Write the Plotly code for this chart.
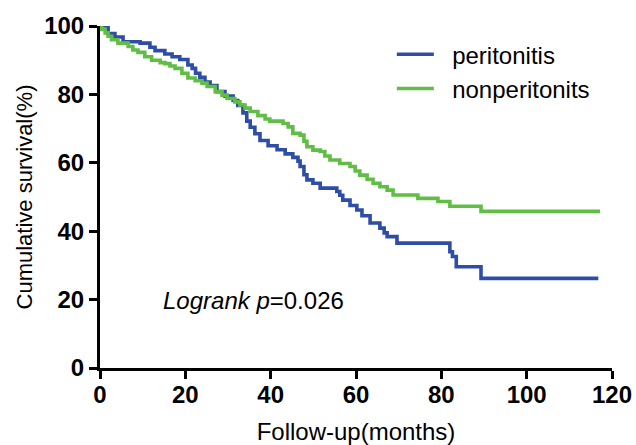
import plotly.graph_objects as go

# Kaplan-Meier step data (months, cumulative survival %)
peri_t = [0, 1.9, 3.5, 5.4, 9.4, 11.7, 12.9, 15.2, 16.9, 18.7, 20.6, 21.6, 22.4, 23.4, 24.6, 25.8,
          27.4, 29.3, 31.2, 32.3, 33.5, 34.4, 35.2, 36.3, 37.5, 39.4, 41.5, 43.4, 45.2, 46.4,
          46.9, 47.8, 48.5, 49.9, 51.6, 55.5, 56.2, 56.9, 58.6, 60.2, 61.4, 63.3, 65.6, 66.6,
          67.3, 69.6, 82.0, 82.6, 83.5, 89.3, 116.8]
peri_s = [100, 97.8, 96.8, 95.4, 95.0, 93.8, 92.8, 91.8, 91.0, 90.2, 88.6, 87.6, 86.2, 85.0, 83.6, 82.6,
          80.8, 79.5, 78.2, 76.8, 74.6, 72.2, 70.4, 68.5, 66.5, 65.0, 63.8, 62.6, 61.6, 60.5,
          58.9, 56.5, 55.0, 54.0, 52.6, 51.6, 50.5, 49.1, 47.5, 46.2, 44.5, 42.4, 40.9, 39.5,
          38.4, 36.5, 34.0, 32.6, 29.6, 26.2, 26.2]

nonperi_t = [0, 0.4, 1.2, 1.9, 2.7, 4.2, 6.6, 7.7, 8.9, 10.5, 12.1, 14.1, 15.2, 16.4, 17.6, 19.2,
             20.6, 22.3, 23.9, 25.1, 27.0, 28.6, 29.8, 31.6, 32.8, 34.0, 35.2, 37.0, 38.7, 39.8,
             42.9, 44.1, 45.2, 46.9, 47.8, 48.5, 49.9, 51.6, 52.7, 53.9, 56.2, 58.6, 59.8, 60.9,
             62.6, 64.0, 65.6, 67.3, 68.7, 74.5, 79.2, 82.0, 89.3, 117.2]
nonperi_s = [100, 99.0, 98.0, 97.0, 96.0, 95.0, 94.0, 93.0, 92.3, 91.0, 90.0, 89.3, 89.0, 88.3, 87.6, 86.2,
             84.8, 84.0, 83.3, 82.3, 80.8, 79.8, 78.8, 77.8, 76.9, 76.0, 75.0, 73.8, 72.8, 72.2,
             71.5, 70.5, 68.6, 68.1, 66.3, 64.7, 63.7, 63.3, 62.0, 60.8, 59.8, 58.9, 57.6, 56.4,
             55.2, 54.0, 53.0, 52.0, 50.6, 49.6, 48.7, 47.3, 45.8, 45.8]

x_ticks = [0, 20, 40, 60, 80, 100, 120]
y_ticks = [0, 20, 40, 60, 80, 100]

FONT = "Liberation Sans, Arial, sans-serif"

fig = go.Figure()
fig.add_trace(go.Scatter(x=peri_t, y=peri_s, mode="lines", line_shape="hv", legendgroup="a",
                         name="  peritonitis", line=dict(color="#2E4DA6", width=3.6)))
fig.add_trace(go.Scatter(x=nonperi_t, y=nonperi_s, mode="lines", line_shape="hv", legendgroup="b",
                         name="  nonperitonits", line=dict(color="#60BE44", width=3.6)))

fig.add_annotation(x=14.4, y=19.6, xref="x", yref="y", xanchor="left", yanchor="middle",
                   text="<i>Logrank p</i>=0.026", showarrow=False,
                   font=dict(family=FONT, size=24, color="black"))

axis_common = dict(showline=True, linewidth=3, linecolor="black", ticks="outside",
                   ticklen=8, tickwidth=3, tickcolor="black", showgrid=False, zeroline=False,
                   automargin=False,
                   tickfont=dict(family=FONT, size=24, color="black", weight="bold"))

fig.update_layout(
    width=636, height=445,
    margin=dict(l=100, r=24, t=26, b=77),
    paper_bgcolor="white", plot_bgcolor="white",
    xaxis=dict(range=[0, 120], tickvals=x_ticks, ticklabelstandoff=-5,
               title=dict(text="Follow-up(months)", font=dict(family=FONT, size=24, color="black"),
                          standoff=18),
               **axis_common),
    yaxis=dict(range=[0, 100], tickvals=y_ticks,
               title=dict(text="Cumulative survival(%)", font=dict(family=FONT, size=22, color="black"),
                          standoff=6),
               **axis_common),
    legend=dict(x=0.57, y=0.982, xanchor="left", yanchor="top", bgcolor="rgba(0,0,0,0)",
                font=dict(family=FONT, size=24, color="black"), itemwidth=37,
                tracegroupgap=0),
    showlegend=True,
)

fig.write_html("out.html", config={"displayModeBar": False},
               post_script="document.body.style.margin='0px';")
